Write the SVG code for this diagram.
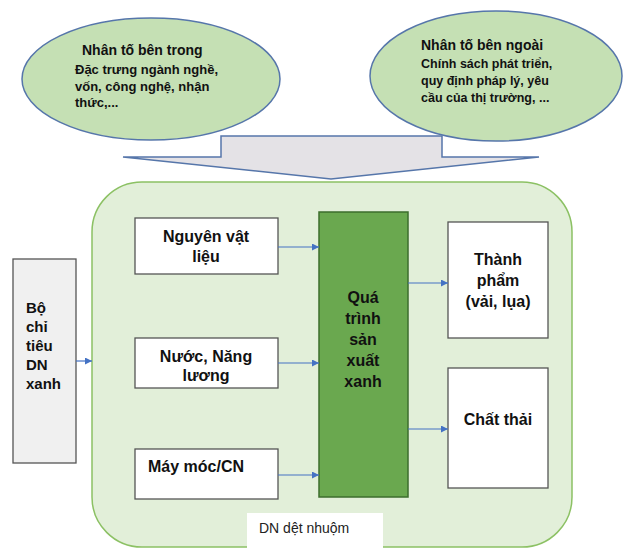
<svg xmlns="http://www.w3.org/2000/svg" width="626" height="548" viewBox="0 0 626 548">
<defs>
<marker id="ah" viewBox="0 0 10 10" refX="10" refY="5" markerWidth="7" markerHeight="7" orient="auto" markerUnits="userSpaceOnUse">
<path d="M0,0 L10,5 L0,10 z" fill="#4472c4"/>
</marker>
<clipPath id="clipNuoc"><rect x="136" y="339" width="141" height="48"/></clipPath>
<style>
.ell{fill:#c5e0b4;stroke:#5676aa;stroke-width:1.5}
.box{fill:#ffffff;stroke:#555555;stroke-width:1.3}
.t{font-family:"Liberation Sans",Arial,sans-serif;font-weight:bold;fill:#111111}
.conn{stroke:#4472c4;stroke-width:1.2;fill:none;marker-end:url(#ah)}
</style>
</defs>
<rect width="626" height="548" fill="#ffffff"/>
<g id="container">
<rect x="92" y="182" width="480" height="365" rx="50" ry="50" fill="#e2efd9" stroke="#8cc164" stroke-width="1.5"/>
</g>
<g id="big-arrow">
<path d="M221,136 L442,136 L442,157 L539,157 L331,179 L123,157 L221,157 Z" fill="#e4e2e6" stroke="#5676aa" stroke-width="1.5"/>
</g>
<g id="inner-factors">
<ellipse class="ell" cx="151" cy="79" rx="129" ry="61"/>
<text class="t" x="82" y="55" font-size="14">Nhân tố bên trong</text>
<text class="t" x="75" y="74" font-size="13">Đặc trưng ngành nghề,</text>
<text class="t" x="75" y="91" font-size="13">vốn, công nghệ, nhận</text>
<text class="t" x="75" y="107" font-size="13">thức,...</text>
</g>
<g id="outer-factors">
<ellipse class="ell" cx="496" cy="76" rx="126" ry="65"/>
<text class="t" x="421" y="50" font-size="14">Nhân tố bên ngoài</text>
<text class="t" x="421" y="68" font-size="12.5">Chính sách phát triển,</text>
<text class="t" x="421" y="85" font-size="12.5">quy định pháp lý, yêu</text>
<text class="t" x="421" y="102" font-size="12.5">cầu của thị trường, ...</text>
</g>
<g id="criteria">
<rect x="13" y="259" width="63" height="204" fill="#f0f0f0" stroke="#555555" stroke-width="1.3"/>
<text class="t" font-size="15" x="26" y="313">Bộ</text>
<text class="t" font-size="15" x="26" y="332">chỉ</text>
<text class="t" font-size="15" x="26" y="351">tiêu</text>
<text class="t" font-size="15" x="26" y="370">DN</text>
<text class="t" font-size="15" x="26" y="389">xanh</text>
</g>
<g id="materials">
<rect class="box" x="135" y="218" width="143" height="56"/>
<text class="t" font-size="16" x="206" y="242" text-anchor="middle">Nguyên vật</text>
<text class="t" font-size="16" x="206" y="262" text-anchor="middle">liệu</text>
</g>
<g id="water-energy">
<rect class="box" x="135" y="338" width="143" height="50"/>
<g clip-path="url(#clipNuoc)">
<text class="t" font-size="16" x="206" y="362" text-anchor="middle">Nước, Năng</text>
<text class="t" font-size="16" x="206" y="381" text-anchor="middle">lương</text>
</g>
</g>
<g id="machinery">
<rect class="box" x="135" y="449" width="143" height="50"/>
<text class="t" font-size="16" x="148" y="472">Máy móc/CN</text>
</g>
<g id="process">
<rect x="319" y="212" width="89" height="285" fill="#6aa84f" stroke="#3c6e2c" stroke-width="1.5"/>
<text class="t" font-size="16" x="363" y="303" text-anchor="middle">Quá</text>
<text class="t" font-size="16" x="363" y="324" text-anchor="middle">trình</text>
<text class="t" font-size="16" x="363" y="345" text-anchor="middle">sản</text>
<text class="t" font-size="16" x="363" y="366" text-anchor="middle">xuất</text>
<text class="t" font-size="16" x="363" y="387" text-anchor="middle">xanh</text>
</g>
<g id="product">
<rect class="box" x="448" y="222" width="100" height="116"/>
<text class="t" font-size="16" x="498" y="265" text-anchor="middle">Thành</text>
<text class="t" font-size="16" x="498" y="286" text-anchor="middle">phẩm</text>
<text class="t" font-size="16" x="498" y="307" text-anchor="middle">(vải, lụa)</text>
</g>
<g id="waste">
<rect class="box" x="448" y="368" width="100" height="120"/>
<text class="t" font-size="16" x="498" y="425" text-anchor="middle">Chất thải</text>
</g>
<g id="label">
<rect x="247" y="513" width="136" height="40" fill="#ffffff"/>
<text x="259" y="533" font-family="Liberation Sans, Arial, sans-serif" font-size="14" fill="#222222">DN dệt nhuộm</text>
</g>
<g id="connectors">
<line class="conn" x1="76" y1="361" x2="92" y2="361"/>
<line class="conn" x1="278" y1="247" x2="319" y2="247"/>
<line class="conn" x1="278" y1="363" x2="319" y2="363"/>
<line class="conn" x1="278" y1="475" x2="319" y2="475"/>
<line class="conn" x1="408" y1="283" x2="448" y2="283"/>
<line class="conn" x1="408" y1="429" x2="448" y2="429"/>
</g>
</svg>
